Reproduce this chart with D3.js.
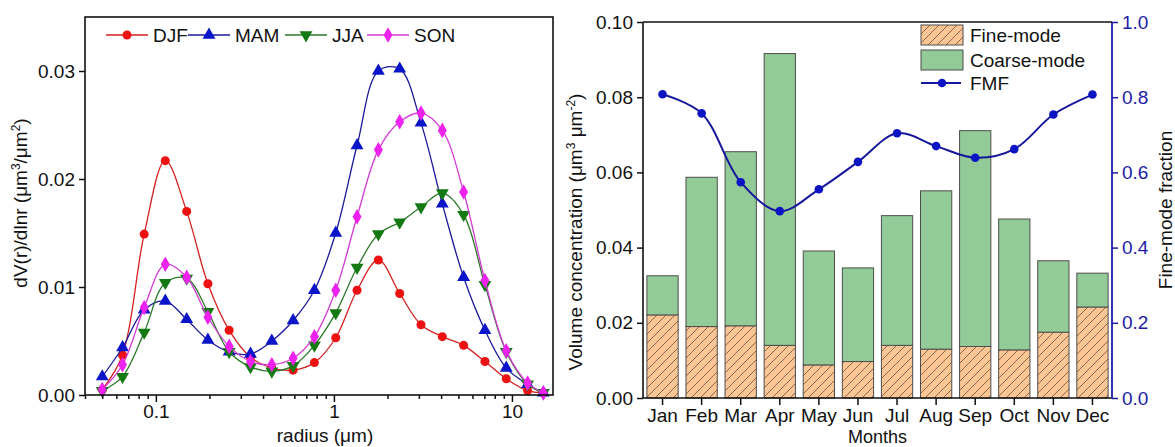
<!DOCTYPE html>
<html>
<head>
<meta charset="utf-8">
<script src="https://cdn.jsdelivr.net/npm/d3@7"></script>
<style>
  body { margin: 0; background: #fff; }
  text { font-family: "Liberation Sans", Arial, sans-serif; }
</style>
</head>
<body>
<div id="chart"></div>
<script>
// Left panel: volume size distributions by season
var radius = [0.050, 0.065, 0.086, 0.113, 0.149, 0.196, 0.258, 0.340, 0.448, 0.590, 0.777,
              1.024, 1.349, 1.777, 2.341, 3.084, 4.063, 5.352, 7.051, 9.288, 12.24, 15.0];
var djf = [0.0005, 0.0037, 0.0149, 0.0217, 0.0170, 0.0103, 0.0060, 0.0035, 0.0025, 0.0023, 0.0030,
           0.0053, 0.0097, 0.0125, 0.0094, 0.0065, 0.0054, 0.0046, 0.0031, 0.0015, 0.0004, 0.0002];
var mam = [0.0017, 0.0044, 0.0079, 0.0087, 0.0070, 0.0051, 0.0040, 0.0038, 0.0050, 0.0069, 0.0097,
           0.0150, 0.0231, 0.0300, 0.0302, 0.0252, 0.0177, 0.0109, 0.0060, 0.0025, 0.0010, 0.0002];
var jja = [0.0004, 0.0017, 0.0058, 0.0104, 0.0108, 0.0077, 0.0040, 0.0026, 0.0022, 0.0027, 0.0046,
           0.0076, 0.0118, 0.0149, 0.0160, 0.0174, 0.0187, 0.0167, 0.0102, 0.0040, 0.0010, 0.0002];
var son = [0.0005, 0.0028, 0.0081, 0.0121, 0.0109, 0.0072, 0.0045, 0.0031, 0.0028, 0.0034, 0.0054,
           0.0097, 0.0165, 0.0227, 0.0253, 0.0261, 0.0245, 0.0188, 0.0106, 0.0041, 0.0011, 0.0002];
var seasonNames = ["DJF", "MAM", "JJA", "SON"];
var radiusTicks = [0.1, 1, 10];
var sizeTicks = [0.00, 0.01, 0.02, 0.03];

// Right panel: monthly volume concentration and FMF
var months = ["Jan", "Feb", "Mar", "Apr", "May", "Jun", "Jul", "Aug", "Sep", "Oct", "Nov", "Dec"];
var fineMode = [0.0221, 0.0190, 0.0192, 0.0140, 0.0088, 0.0097, 0.0140, 0.0130, 0.0137, 0.0128, 0.0175, 0.0242];
var coarseMode = [0.0104, 0.0397, 0.0463, 0.0776, 0.0303, 0.0249, 0.0345, 0.0421, 0.0574, 0.0348, 0.0190, 0.0090];
var fmf = [0.808, 0.757, 0.574, 0.497, 0.555, 0.628, 0.704, 0.670, 0.639, 0.662, 0.754, 0.807];
var volumeTicks = [0.00, 0.02, 0.04, 0.06, 0.08, 0.10];
var fmfTicks = [0.0, 0.2, 0.4, 0.6, 0.8, 1.0];

var W = 1175, H = 447;
var fontSize = 19;
var svg = d3.select("#chart").append("svg").attr("width", W).attr("height", H);

// ---------- left panel ----------
var L = {left: 85, right: 553, top: 17, bottom: 395};
var xL = d3.scaleLog().domain([0.04, 17]).range([L.left, L.right]);
var yL = d3.scaleLinear().domain([0, 0.035]).range([L.bottom, L.top]);

var seasons = [
  {name: seasonNames[0], values: djf, line: "#d42020", fill: "#ee1111", symbol: d3.symbolCircle, size: 64, rot: 0},
  {name: seasonNames[1], values: mam, line: "#1a1a9a", fill: "#0a14c8", symbol: d3.symbolTriangle, size: 72, rot: 0},
  {name: seasonNames[2], values: jja, line: "#2a7a2a", fill: "#137a13", symbol: d3.symbolTriangle, size: 72, rot: 180},
  {name: seasonNames[3], values: son, line: "#d43ad4", fill: "#ee22ee", symbol: d3.symbolDiamond, size: 70, rot: 0}
];

var left = svg.append("g").attr("class", "leftPanel");

var sizeLine = d3.line()
  .x(function(d) { return xL(d[0]); })
  .y(function(d) { return yL(d[1]); })
  .curve(d3.curveCatmullRom.alpha(0.5));

seasons.forEach(function(s) {
  var pts = radius.map(function(r, i) { return [r, s.values[i]]; });
  left.append("path")
    .attr("d", sizeLine(pts))
    .attr("fill", "none")
    .attr("stroke", s.line)
    .attr("stroke-width", 1.3);
  left.selectAll(null).data(pts).enter().append("path")
    .attr("d", d3.symbol().type(s.symbol).size(s.size))
    .attr("transform", function(d) {
      return "translate(" + xL(d[0]) + "," + yL(d[1]) + ") rotate(" + s.rot + ")";
    })
    .attr("fill", s.fill);
});

// axes
var minorRadius = [];
[0.01, 0.1, 1].forEach(function(dec) {
  for (var k = 2; k <= 9; k++) {
    var v = dec * k;
    if (v >= 0.04 && v <= 17) minorRadius.push(v);
  }
});

left.append("g")
  .attr("transform", "translate(0," + L.bottom + ")")
  .call(d3.axisBottom(xL).tickValues(minorRadius).tickSize(4).tickFormat(""));
left.append("g")
  .attr("transform", "translate(0," + L.bottom + ")")
  .call(d3.axisBottom(xL).tickValues(radiusTicks).tickSize(7).tickPadding(3)
        .tickFormat(function(d) { return d3.format("")(d); }));
left.append("g")
  .attr("transform", "translate(" + L.left + ",0)")
  .call(d3.axisLeft(yL).tickValues(sizeTicks).tickSize(6).tickPadding(4).tickFormat(d3.format(".2f")));

left.selectAll(".domain").remove();
left.selectAll(".tick line").attr("stroke", "#111").attr("stroke-width", 1.5);
left.selectAll(".tick text").attr("fill", "#111").attr("font-size", fontSize)
  .attr("font-family", "Liberation Sans, Arial, sans-serif");

left.append("rect")
  .attr("x", L.left).attr("y", L.top)
  .attr("width", L.right - L.left).attr("height", L.bottom - L.top)
  .attr("fill", "none").attr("stroke", "#111").attr("stroke-width", 1.6);

// legend
var legX = [106, 188, 285, 367];
var legY = 35;
seasons.forEach(function(s, i) {
  var g = left.append("g").attr("transform", "translate(" + legX[i] + "," + legY + ")");
  g.append("line").attr("x1", 0).attr("x2", 42).attr("stroke", s.line).attr("stroke-width", 1.5);
  g.append("path")
    .attr("d", d3.symbol().type(s.symbol).size(s.size))
    .attr("transform", "translate(21,0) rotate(" + s.rot + ")")
    .attr("fill", s.fill);
  g.append("text").attr("x", 47).attr("y", 0).attr("dy", "0.35em")
    .attr("font-size", fontSize).attr("fill", "#111").text(s.name);
});

// titles
left.append("text")
  .attr("x", (L.left + L.right) / 2 + 6).attr("y", 442)
  .attr("text-anchor", "middle").attr("font-size", fontSize).attr("fill", "#111")
  .text("radius (\u03bcm)");

var yTitle = left.append("text")
  .attr("transform", "translate(27,203) rotate(-90)")
  .attr("text-anchor", "middle").attr("font-size", fontSize).attr("fill", "#111");
yTitle.append("tspan").text("dV(r)/dlnr (\u03bcm");
yTitle.append("tspan").attr("font-size", 12).attr("dy", -7).text("3");
yTitle.append("tspan").attr("dy", 7).text("/\u03bcm");
yTitle.append("tspan").attr("font-size", 12).attr("dy", -7).text("2");
yTitle.append("tspan").attr("dy", 7).text(")");

// ---------- right panel ----------
var R = {left: 643, right: 1112, top: 22, bottom: 398};
var axisBlue = "#1c1ca6";
var xR = d3.scaleBand().domain(months).range([R.left, R.right]).paddingInner(0.2).paddingOuter(0.1);
var yV = d3.scaleLinear().domain([0, 0.1]).range([R.bottom, R.top]);
var yF = d3.scaleLinear().domain([0, 1]).range([R.bottom, R.top]);

var defs = svg.append("defs");
var hatch = defs.append("pattern")
  .attr("id", "hatch").attr("patternUnits", "userSpaceOnUse")
  .attr("width", 9).attr("height", 9);
hatch.append("rect").attr("width", 9).attr("height", 9).attr("fill", "#fcc694");
hatch.append("path")
  .attr("d", "M0,9 L9,0 M-2,2 L2,-2 M7,11 L11,7")
  .attr("stroke", "#6e5038").attr("stroke-width", 0.8);

var right = svg.append("g").attr("class", "rightPanel");

var stackRows = months.map(function(m, i) { return {month: m, fine: fineMode[i], coarse: coarseMode[i]}; });
var stacked = d3.stack().keys(["fine", "coarse"])(stackRows);
var stackFill = {fine: "url(#hatch)", coarse: "#93cb98"};

stacked.forEach(function(layer) {
  right.selectAll(null).data(layer).enter().append("rect")
    .attr("x", function(d) { return xR(d.data.month); })
    .attr("y", function(d) { return yV(d[1]); })
    .attr("width", xR.bandwidth())
    .attr("height", function(d) { return yV(d[0]) - yV(d[1]); })
    .attr("fill", stackFill[layer.key])
    .attr("stroke", "#4d4d4d")
    .attr("stroke-width", 1);
});

// FMF line
var fmfLine = d3.line()
  .x(function(d, i) { return xR(months[i]) + xR.bandwidth() / 2; })
  .y(function(d) { return yF(d); })
  .curve(d3.curveCatmullRom.alpha(0.5));
right.append("path")
  .attr("d", fmfLine(fmf))
  .attr("fill", "none").attr("stroke", "#16169c").attr("stroke-width", 2);
right.selectAll(null).data(fmf).enter().append("circle")
  .attr("cx", function(d, i) { return xR(months[i]) + xR.bandwidth() / 2; })
  .attr("cy", function(d) { return yF(d); })
  .attr("r", 4.3)
  .attr("fill", "#0c14c4");

// axes
var xAxisR = right.append("g")
  .attr("transform", "translate(0," + R.bottom + ")")
  .call(d3.axisBottom(xR).tickSize(7).tickPadding(4));
var yAxisV = right.append("g")
  .attr("transform", "translate(" + R.left + ",0)")
  .call(d3.axisLeft(yV).tickValues(volumeTicks).tickSize(6).tickPadding(4).tickFormat(d3.format(".2f")));
var yAxisF = right.append("g")
  .attr("transform", "translate(" + R.right + ",0)")
  .call(d3.axisRight(yF).tickValues(fmfTicks).tickSize(6).tickPadding(4).tickFormat(d3.format(".1f")));

[xAxisR, yAxisV].forEach(function(a) {
  a.select(".domain").attr("stroke", "#111").attr("stroke-width", 1.6);
  a.selectAll(".tick line").attr("stroke", "#111").attr("stroke-width", 1.5);
  a.selectAll(".tick text").attr("fill", "#111").attr("font-size", fontSize)
    .attr("font-family", "Liberation Sans, Arial, sans-serif");
});
yAxisF.select(".domain").attr("stroke", axisBlue).attr("stroke-width", 1.8);
yAxisF.selectAll(".tick line").attr("stroke", axisBlue).attr("stroke-width", 1.5);
yAxisF.selectAll(".tick text").attr("fill", axisBlue).attr("font-size", fontSize)
  .attr("font-family", "Liberation Sans, Arial, sans-serif");
xAxisR.select(".domain").attr("d", "M" + R.left + ",0H" + R.right);
yAxisV.select(".domain").attr("d", "M0," + R.bottom + "V" + R.top);
yAxisF.select(".domain").attr("d", "M0," + R.bottom + "V" + R.top);

right.append("line")
  .attr("x1", R.left).attr("x2", R.right).attr("y1", R.top).attr("y2", R.top)
  .attr("stroke", "#111").attr("stroke-width", 1.6);

// legend
var lg = right.append("g").attr("transform", "translate(921,25)");
lg.append("rect").attr("x", 0).attr("y", 0).attr("width", 42).attr("height", 20)
  .attr("fill", "url(#hatch)").attr("stroke", "#4d4d4d");
lg.append("rect").attr("x", 0).attr("y", 25).attr("width", 42).attr("height", 20)
  .attr("fill", stackFill.coarse).attr("stroke", "#4d4d4d");
lg.append("line").attr("x1", 0).attr("x2", 40).attr("y1", 58).attr("y2", 58)
  .attr("stroke", "#16169c").attr("stroke-width", 2);
lg.append("circle").attr("cx", 21).attr("cy", 58).attr("r", 4.3).attr("fill", "#0c14c4");
[["Fine-mode", 10], ["Coarse-mode", 35], ["FMF", 58]].forEach(function(t) {
  lg.append("text").attr("x", 49).attr("y", t[1]).attr("dy", "0.35em")
    .attr("font-size", fontSize).attr("fill", "#111").text(t[0]);
});

// titles
right.append("text")
  .attr("x", (R.left + R.right) / 2).attr("y", 443)
  .attr("text-anchor", "middle").attr("font-size", 18).attr("fill", "#111")
  .text("Months");

var vTitle = right.append("text")
  .attr("transform", "translate(582,232) rotate(-90)")
  .attr("text-anchor", "middle").attr("font-size", fontSize).attr("fill", "#111");
vTitle.append("tspan").text("Volume concentration (\u03bcm");
vTitle.append("tspan").attr("font-size", 12).attr("dy", -7).text("3");
vTitle.append("tspan").attr("dy", 7).text(" \u03bcm");
vTitle.append("tspan").attr("font-size", 12).attr("dy", -7).text("-2");
vTitle.append("tspan").attr("dy", 7).text(")");

right.append("text")
  .attr("transform", "translate(1172,210) rotate(-90)")
  .attr("text-anchor", "middle").attr("font-size", fontSize).attr("fill", "#111")
  .text("Fine-mode fraction");
</script>
</body>
</html>
